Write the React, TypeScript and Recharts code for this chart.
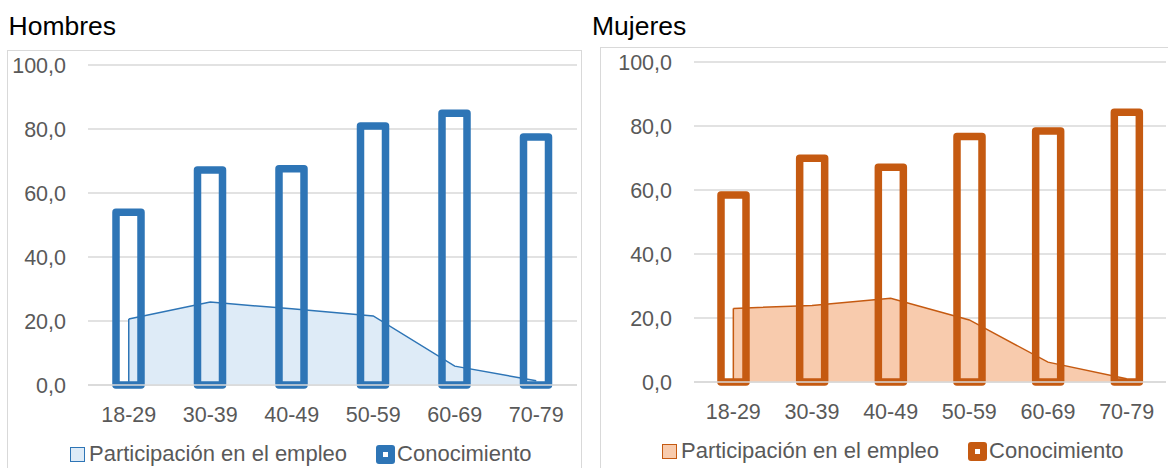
import { ComposedChart, Area, Bar, XAxis, YAxis, CartesianGrid, Legend, ReferenceLine } from "recharts";

const categories = ["18-29", "30-39", "40-49", "50-59", "60-69", "70-79"];

const hombresEmpleo = [20.6, 25.9, 23.8, 21.6, 5.9, 1.3];
const hombresConocimiento = [54.0, 67.2, 67.6, 80.9, 84.9, 77.5];

const mujeresEmpleo = [23.0, 23.9, 26.2, 19.4, 6.2, 1.0];
const mujeresConocimiento = [58.4, 69.9, 67.1, 76.7, 78.4, 84.3];

const yTicks = [0, 20, 40, 60, 80, 100];

const seriesNames = ["Participación en el empleo", "Conocimiento"];

const FONT = "'Liberation Sans', Arial, sans-serif";
const GRID = "#D9D9D9";
const TICK = "#595959";

const fmt = (v: number) => v.toFixed(1).replace(".", ",");

type PanelProps = {
  title: string;
  empleo: number[];
  conocimiento: number[];
  line: string;
  fill: string;
  left: number;
  top: number;
  width: number;
  yWidth: number;
  rightMargin: number;
  titleLeft: number;
  legendPad: number;
};

const Panel = ({ title, empleo, conocimiento, line, fill, left, top, width, yWidth, rightMargin, titleLeft, legendPad }: PanelProps) => {
  const data = categories.map((c, i) => ({ cat: c, empleo: empleo[i], conocimiento: conocimiento[i] }));
  const height = 430;

  const renderLegend = () => (
    <div
      style={{
        display: "flex",
        alignItems: "center",
        height: 30,
        paddingLeft: legendPad,
        fontFamily: FONT,
        fontSize: 22,
        color: TICK,
      }}
    >
      <span style={{ width: 13, height: 13, border: `1.5px solid ${line}`, background: fill, display: "inline-block" }} />
      <span style={{ marginLeft: 4 }}>{seriesNames[0]}</span>
      <span
        style={{
          marginLeft: 29,
          width: 19,
          height: 19,
          borderRadius: 3,
          background: line,
          display: "inline-flex",
          alignItems: "center",
          justifyContent: "center",
        }}
      >
        <span style={{ width: 5, height: 5, background: "#fff" }} />
      </span>
      <span style={{ marginLeft: 2 }}>{seriesNames[1]}</span>
    </div>
  );

  return (
    <>
      <div
        style={{
          position: "absolute",
          left: titleLeft,
          top: 12.5,
          fontFamily: FONT,
          fontSize: 26.5,
          lineHeight: 1,
          color: "#000",
        }}
      >
        {title}
      </div>
      <div
        style={{
          position: "absolute",
          left,
          top,
          width,
          height,
          border: `1.5px solid ${GRID}`,
          boxSizing: "border-box",
        }}
      />
      <div style={{ position: "absolute", left, top }}>
        <ComposedChart width={width} height={height} data={data} margin={{ top: 15, right: rightMargin, bottom: 11, left: 0 }}>
          <CartesianGrid vertical={false} stroke={GRID} strokeWidth={1.5} />
          <XAxis
            dataKey="cat"
            height={54}
            tickLine={false}
            tickSize={6}
            tickMargin={16}
            axisLine={{ stroke: GRID, strokeWidth: 1.5 }}
            tick={{ fill: TICK, fontSize: 21.5, fontFamily: FONT }}
          />
          <YAxis
            domain={[0, 100]}
            ticks={yTicks}
            width={yWidth}
            tickFormatter={fmt}
            axisLine={false}
            tickLine={false}
            tickSize={6}
            tickMargin={16}
            tick={{ fill: TICK, fontSize: 21.5, fontFamily: FONT }}
          />
          <Area
            type="linear"
            dataKey="empleo"
            stroke={line}
            strokeWidth={1.5}
            fill={fill}
            fillOpacity={1}
            dot={false}
            activeDot={false}
            isAnimationActive={false}
          />
          <ReferenceLine
            segment={[
              { x: categories[0], y: 0 },
              { x: categories[0], y: empleo[0] },
            ]}
            stroke={line}
            strokeWidth={1.5}
          />
          <Bar
            dataKey="conocimiento"
            barSize={25}
            fill="none"
            stroke={line}
            strokeWidth={7.5}
            strokeLinejoin="round"
            isAnimationActive={false}
          />
          <Legend verticalAlign="bottom" content={renderLegend} />
        </ComposedChart>
      </div>
    </>
  );
};

export default function App() {
  return (
    <div style={{ position: "absolute", left: 0, top: 0, width: 1168, height: 468, overflow: "hidden", background: "#fff" }}>
      <Panel
        title="Hombres"
        empleo={hombresEmpleo}
        conocimiento={hombresConocimiento}
        line="#2E75B6"
        fill="#DEEBF7"
        left={7}
        top={50}
        width={575}
        yWidth={81}
        rightMargin={5}
        titleLeft={8.5}
        legendPad={63}
      />
      <Panel
        title="Mujeres"
        empleo={mujeresEmpleo}
        conocimiento={mujeresConocimiento}
        line="#C55A11"
        fill="#F8CBAD"
        left={600}
        top={47}
        width={578}
        yWidth={94}
        rightMargin={12}
        titleLeft={592}
        legendPad={62}
      />
    </div>
  );
}
